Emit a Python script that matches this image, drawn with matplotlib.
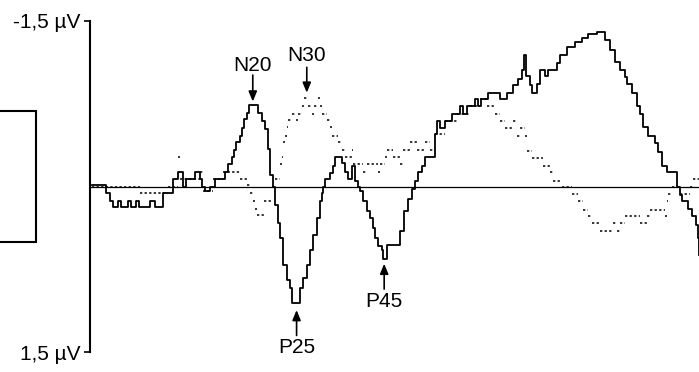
import numpy as np
import matplotlib.pyplot as plt
from matplotlib.patches import Rectangle

plt.rcParams['font.family'] = ['Liberation Sans', 'DejaVu Sans']

# solid trace (ms, µV; negative is drawn upwards), step values
solid_t = [0.0, 2.3, 3.0, 3.5, 4.3, 4.8, 6.0, 6.5, 7.3, 7.8, 9.7, 10.5, 11.8, 13.5,
           14.3, 15.2, 15.7, 17.2, 18.0, 18.3, 18.8, 19.7, 20.5, 22.2, 22.7, 23.3,
           23.7, 24.0, 24.7, 25.0, 25.3, 25.8, 26.2, 27.7, 28.3, 28.8, 29.3, 29.7,
           30.2, 30.5, 31.0, 31.3, 31.8, 32.5, 33.0, 33.3, 34.7, 35.2, 35.8, 36.3,
           36.8, 37.5, 38.0, 38.3, 38.5, 38.8, 39.7, 40.2, 40.5, 41.7, 42.2, 42.7,
           43.3, 43.8, 44.3, 44.7, 45.2, 45.8, 46.3, 46.8, 47.2, 47.7, 48.3, 48.5,
           49.2, 51.3, 52.0, 52.7, 53.3, 53.8, 54.3, 55.0, 55.5, 57.2, 57.5, 58.0,
           58.8, 60.0, 61.3, 61.8, 62.5, 63.8, 64.3, 64.8, 66.0, 68.0, 69.2, 70.2,
           71.0, 71.7, 72.0, 72.3, 73.0, 73.3, 74.2, 74.7, 75.5, 76.0, 77.5, 78.0,
           79.2, 80.5, 81.7, 82.7, 84.2, 85.5, 86.3, 87.2, 88.0, 88.8, 89.2, 90.0,
           90.8, 91.3, 91.8, 92.7, 93.8, 94.3, 95.0, 95.8, 97.5, 98.0, 98.3, 99.3,
           100.0, 100.7, 101.0, 101.2]
solid_v = [-0.01, 0.06, 0.13, 0.19, 0.13, 0.19, 0.13, 0.19, 0.13, 0.19, 0.13, 0.19, 0.06, -0.07,
           -0.13, 0.00, -0.07, -0.13, -0.07, 0.00, 0.04, 0.00, -0.07, -0.13, -0.20, -0.27,
           -0.33, -0.40, -0.46, -0.53, -0.61, -0.67, -0.74, -0.67, -0.59, -0.52, -0.34, -0.10,
           0.00, 0.17, 0.33, 0.47, 0.71, 0.85, 0.92, 1.06, 0.92, 0.83, 0.71, 0.58,
           0.44, 0.29, 0.13, 0.06, 0.00, -0.07, -0.12, -0.19, -0.27, -0.21, -0.13, -0.07,
           -0.19, -0.05, 0.00, 0.04, 0.13, 0.22, 0.29, 0.38, 0.47, 0.54, 0.58, 0.66,
           0.53, 0.40, 0.22, 0.11, 0.02, -0.05, -0.13, -0.19, -0.27, -0.48, -0.59, -0.53,
           -0.59, -0.66, -0.73, -0.66, -0.73, -0.79, -0.73, -0.79, -0.85, -0.79, -0.85, -0.92,
           -0.97, -1.06, -1.19, -1.00, -0.92, -0.85, -0.93, -1.06, -1.00, -1.06, -1.12, -1.19,
           -1.26, -1.31, -1.35, -1.38, -1.40, -1.33, -1.24, -1.13, -1.06, -0.99, -0.93, -0.85,
           -0.73, -0.66, -0.54, -0.46, -0.39, -0.31, -0.19, -0.13, 0.00, 0.08, 0.13, 0.20,
           0.27, 0.35, 0.47, 0.62]

# dotted trace, step values
dot_t = [0.0, 8.0, 12.7, 14.3, 14.7, 18.0, 18.5, 20.2, 21.8, 24.7, 25.8, 26.3, 26.8,
         27.2, 27.5, 28.7, 30.0, 30.5, 31.3, 31.7, 31.8, 32.2, 32.5, 32.7, 33.3, 34.0,
         34.3, 35.0, 35.3, 36.0, 36.7, 37.0, 37.7, 38.0, 38.3, 39.2, 39.7, 40.0, 41.0,
         41.7, 42.2, 43.3, 43.5, 45.2, 45.8, 47.7, 48.0, 48.8, 49.2, 50.2, 51.3, 51.8,
         53.0, 54.2, 55.5, 56.3, 57.2, 58.8, 60.8, 63.0, 64.7, 65.8, 67.2, 68.0, 68.8,
         70.2, 70.8, 71.3, 72.2, 72.5, 73.3, 75.2, 76.3, 76.8, 78.3, 80.0, 81.0, 81.8,
         82.7, 83.3, 84.7, 86.8, 87.5, 88.0, 88.8, 91.3, 92.5, 93.0, 95.5, 95.8, 96.0,
         96.7, 98.0, 99.7, 100.2, 101.2]
dot_v = [0.00, 0.06, 0.00, -0.27, -0.07, -0.13, 0.04, -0.07, -0.13, -0.07, -0.01, 0.06, 0.13,
         0.20, 0.26, 0.13, 0.00, -0.07, -0.20, -0.27, -0.40, -0.46, -0.54, -0.60, -0.66, -0.60,
         -0.66, -0.73, -0.80, -0.73, -0.66, -0.73, -0.80, -0.73, -0.66, -0.60, -0.54, -0.46, -0.40,
         -0.33, -0.27, -0.33, -0.20, -0.13, -0.20, -0.13, -0.20, -0.27, -0.33, -0.27, -0.20, -0.33,
         -0.40, -0.33, -0.40, -0.33, -0.48, -0.59, -0.66, -0.73, -0.79, -0.73, -0.66, -0.59, -0.53,
         -0.59, -0.46, -0.53, -0.46, -0.32, -0.26, -0.19, -0.13, -0.05, 0.00, 0.07, 0.13, 0.21,
         0.27, 0.33, 0.40, 0.33, 0.40, 0.33, 0.27, 0.33, 0.27, 0.21, 0.27, 0.13, 0.07,
         0.00, 0.07, 0.00, -0.07, -0.07]

# peak labels: name, latency of arrow, arrow tip, arrow tail, text centre
peak_names = ['N20', 'N30', 'P25', 'P45']
peak_t = [26.8, 35.8, 34.1, 48.7]
peak_tip = [-0.77, -0.85, 1.12, 0.70]
peak_tail = [-1.01, -1.08, 1.35, 0.93]
peak_text = [-1.10, -1.19, 1.46, 1.04]

ytick_vals = [-1.5, 1.5]
ytick_labels = ['-1,5 \u00b5V', '1,5 \u00b5V']

fig = plt.figure(figsize=(6.99, 3.72), dpi=100)
ax = fig.add_axes([90 / 699, 20 / 372, 609 / 699, 331 / 372])

ax.axhline(0, color='black', lw=0.9)
ax.step(solid_t, solid_v, where='post', color='black', lw=1.3)
ax.hlines(dot_v[:-1], dot_t[:-1], dot_t[1:], colors='black', lw=1.1,
          linestyles=(0, (1.5, 1.5)))

for name, t, tip, tail, ty in zip(peak_names, peak_t, peak_tip, peak_tail, peak_text):
    ax.annotate('', xy=(t, tip), xytext=(t, tail),
                arrowprops=dict(arrowstyle='-|>,head_length=0.6,head_width=0.25',
                                color='black', lw=1.2, shrinkA=0, shrinkB=0))
    ax.text(t, ty, name, ha='center', va='center', fontsize=15)

ax.set_xlim(-0.33, 101.17)
ax.set_ylim(1.5, -1.5)
ax.set_yticks(ytick_vals)
ax.set_yticklabels(ytick_labels, fontsize=15)
ax.tick_params(axis='y', length=4, width=1.2, pad=3)
ax.set_xticks([])
for s in ['top', 'right', 'bottom']:
    ax.spines[s].set_visible(False)
ax.spines['left'].set_linewidth(1.5)

# clipped box at the left edge
fig.patches.append(Rectangle((-2 / 699, 130 / 372), 38 / 699, 131 / 372,
                             transform=fig.transFigure, fill=False, lw=1.5,
                             edgecolor='black'))

fig.savefig('out.png', dpi=100)
